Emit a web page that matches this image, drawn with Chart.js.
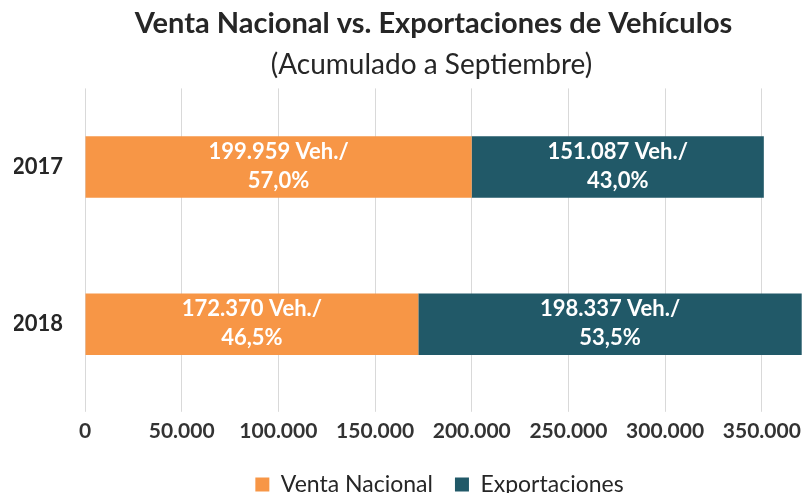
<!DOCTYPE html>
<html>
<head>
<meta charset="utf-8">
<script src="https://cdn.jsdelivr.net/npm/chart.js@4/dist/chart.umd.min.js"></script>
<style>
  html, body { margin: 0; padding: 0; background: #ffffff; }
  #wrap { width: 808px; height: 493px; position: relative; }
</style>
</head>
<body>
<div id="wrap"><canvas id="c"></canvas></div>
<script>
const categories = ['2017', '2018'];
const seriesNames = ['Venta Nacional', 'Exportaciones'];
const ventaNacional = [199959, 172370];
const exportaciones = [151087, 198337];
const tickValues = [0, 50000, 100000, 150000, 200000, 250000, 300000, 350000];
const axisMax = 370707;

const FONT = 'Lato, "Open Sans", sans-serif';
const fmt = v => v.toString().replace(/\B(?=(\d{3})+(?!\d))/g, '.');

const labelPlugin = {
  id: 'barLabels',
  afterDatasetsDraw(chart) {
    const ctx = chart.ctx;
    ctx.save();
    ctx.font = 'bold 22px ' + FONT;
    ctx.fillStyle = '#ffffff';
    ctx.textAlign = 'center';
    ctx.textBaseline = 'middle';
    const ds = chart.data.datasets;
    ds.forEach((d, di) => {
      const meta = chart.getDatasetMeta(di);
      meta.data.forEach((el, i) => {
        const total = ds.reduce((s, dd) => s + dd.data[i], 0);
        const v = d.data[i];
        const pct = (v / total * 100).toFixed(1).replace('.', ',');
        const cx = (el.x + el.base) / 2;
        ctx.fillText(fmt(v) + ' Veh./', cx, el.y - 15);
        ctx.fillText(pct + '%', cx, el.y + 14);
      });
    });
    ctx.restore();
  }
};

// centre title, subtitle and legend over the plot area, as in the reference
const boxShift = {
  id: 'boxShift',
  afterLayout(chart) {
    const shift = (b, s) => { if (b) { b.left += s; b.right += s; } };
    shift(chart.legend, 30);
    shift(chart.titleBlock, 24);
    const sub = chart.boxes.find(b => b !== chart.titleBlock && b.options && b.options.text === '(Acumulado a Septiembre)');
    shift(sub, 22);
  }
};

new Chart(document.getElementById('c'), {
  type: 'bar',
  data: {
    labels: categories,
    datasets: [
      { label: seriesNames[0], data: ventaNacional, backgroundColor: '#F79646', borderWidth: 0 },
      { label: seriesNames[1], data: exportaciones, backgroundColor: '#215968', borderWidth: 0 }
    ]
  },
  options: {
    indexAxis: 'y',
    responsive: true,
    maintainAspectRatio: false,
    animation: false,
    layout: { padding: { left: 14, right: 3, top: 0, bottom: -13 } },
    datasets: { bar: { categoryPercentage: 1, barPercentage: 0.392 } },
    scales: {
      x: {
        stacked: true,
        min: 0,
        max: axisMax,
        afterBuildTicks: axis => { axis.ticks = tickValues.map(v => ({ value: v })); },
        grid: { color: '#d9d9d9', lineWidth: 1, tickLength: 9, drawTicks: true },
        border: { display: false },
        ticks: {
          color: '#333333',
          font: { family: FONT, size: 21, weight: 'bold' },
          padding: 7,
          maxRotation: 0,
          callback: v => fmt(v)
        }
      },
      y: {
        stacked: true,
        afterFit: axis => { axis.width = 71; },
        grid: { display: false, drawTicks: false, tickLength: 0 },
        border: { display: false },
        ticks: {
          color: '#262626',
          font: { family: FONT, size: 22, weight: 'bold' },
          padding: 22
        }
      }
    },
    plugins: {
      title: {
        display: true,
        text: 'Venta Nacional vs. Exportaciones de Vehículos',
        color: '#262626',
        font: { family: FONT, size: 29, weight: 'bold' },
        padding: { top: 6, bottom: 4 }
      },
      subtitle: {
        display: true,
        text: '(Acumulado a Septiembre)',
        color: '#262626',
        font: { family: FONT, size: 28, weight: 'normal' },
        padding: { top: 3, bottom: 7 }
      },
      legend: {
        position: 'bottom',
        labels: {
          color: '#262626',
          font: { family: FONT, size: 23 },
          boxWidth: 14,
          boxHeight: 14,
          padding: 22
        }
      },
      tooltip: { enabled: false }
    }
  },
  plugins: [labelPlugin, boxShift]
});
</script>
</body>
</html>
